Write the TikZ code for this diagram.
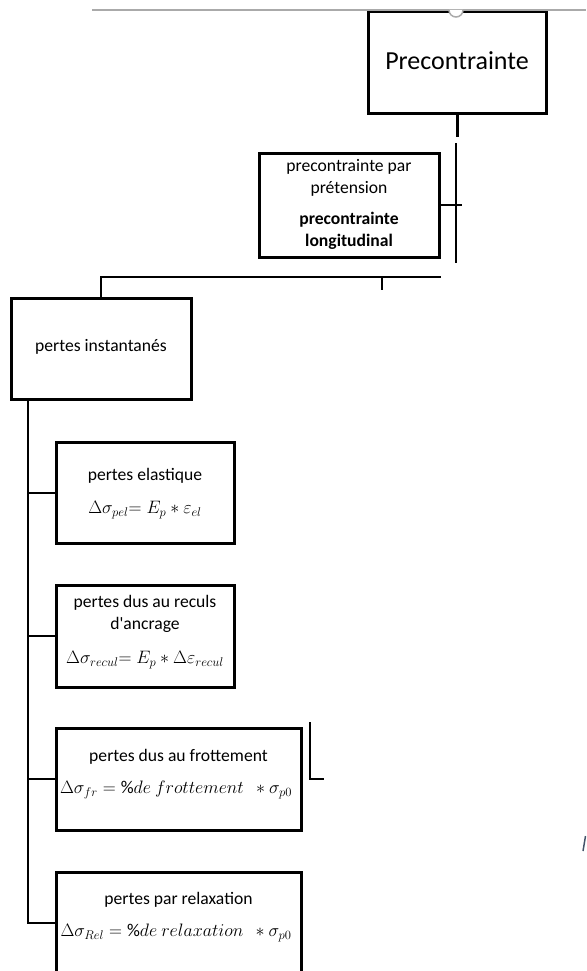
\RequirePackage{fix-cm}
\documentclass[tikz,border=0pt]{standalone}
\usepackage{fontspec}
\setmainfont{Carlito}
\definecolor{rulegray}{RGB}{170,170,170}
\definecolor{slateblue}{RGB}{68,84,106}
\begin{document}
\begin{tikzpicture}[x=1pt,y=-1pt,
  box/.style={draw=black, line width=3pt, fill=white, inner sep=0pt},
  conn/.style={draw=black, line width=2pt},
  lbl/.style={align=center, inner sep=0pt, font=\fontsize{17.6}{22}\selectfont},
  eq/.style={inner sep=0pt, font=\fontsize{18}{22}\selectfont},
  big/.style={inner sep=0pt, font=\fontsize{26}{31}\selectfont},
]
\useasboundingbox (0,0) rectangle (586,971);
\clip (0,0) rectangle (586,971);

% boxes
\node[box, minimum width=178pt, minimum height=102pt] (p1) at (457,63) {};
\node[box, minimum width=180pt, minimum height=104pt] (p2) at (349,205) {};
\node[box, minimum width=180pt, minimum height=101pt] (p3) at (101,348.5) {};
\node[box, minimum width=178pt, minimum height=101pt] (p4) at (145,492.5) {};
\node[box, minimum width=178pt, minimum height=102pt] (p5) at (145,636) {};
\node[box, minimum width=245pt, minimum height=102pt] (p6) at (178.5,779) {};
\node[box, minimum width=245pt, minimum height=102pt] (p7) at (178.5,923) {};

% top rule with its small notch
\coordinate (g1) at (92,10);
\coordinate (g2) at (586,10);
\draw[rulegray, line width=1.5pt] (g1) -- (g2);
\draw[rulegray, line width=1.5pt, fill=white] (449,10) arc[start angle=180, end angle=0, radius=7];

% labels
\node[big] (t1) at (457,61) {Precontrainte};
\node[lbl] (t2) at (349,204.5) {precontrainte par\\prétension\\[9pt]\textbf{precontrainte}\\\textbf{longitudinal}};
\node[lbl] (t3) at (101,347) {pertes instantanés};
\node[lbl] (t4) at (145,476) {pertes elastique};
\node[eq] (f4) at (145,510) {$\Delta\sigma_{pel}{=}\;E_p * \varepsilon_{el}$};
\node[lbl] (t5) at (145,614) {pertes dus au reculs\\d\textquotesingle ancrage};
\node[eq] (f5) at (145,660) {$\Delta\sigma_{recul}{=}\;E_p * \Delta\varepsilon_{recul}$};
\node[lbl] (t6) at (178.5,757) {pertes dus au frottement};
\node[eq] (f6) at (176,790) {$\Delta\sigma_{fr} = \%de\ frottement\ \ * \sigma_{p0}$};
\node[lbl] (t7) at (178.5,900) {pertes par relaxation};
\node[eq] (f7) at (176,933) {$\Delta\sigma_{Rel} = \%de\ relaxation\ \ * \sigma_{p0}$};

% connectors at the top
\draw[conn, line width=3pt] (p1.south) -- ++(0,21) coordinate (c1);
\coordinate (c2) at (456,143);
\coordinate (c3) at (456,263);
\draw[conn, line width=1.6pt] (c2) -- (c3);
\draw[conn] (p2.east) -- ++(21,0);
\coordinate (h2) at (441,277);
\draw[conn] (p3.north) -- (p3.north |- h2) -- (h2);
\coordinate (tk) at (382,277);
\draw[conn] (tk) -- ++(0,13);

% left spine and its branches
\coordinate (s0) at ([xshift=18pt]p3.south west);
\draw[conn] (s0) -- (s0 |- p7.west) -- (p7.west);
\draw[conn] (s0 |- p4.west) -- (p4.west);
\draw[conn] (s0 |- p5.west) -- (p5.west);
\draw[conn] (s0 |- p6.west) -- (p6.west);

% loose corner mark beside the friction box
\coordinate (m1) at (310,722);
\coordinate (m2) at (310,779);
\coordinate (m3) at (324,779);
\draw[conn, line width=1.8pt] (m1) -- (m2) -- (m3);

% small stroke at the right edge
\coordinate (b1) at (583,851);
\coordinate (b2) at (585.5,836);
\draw[slateblue, line width=1.5pt] (b1) -- (b2);
\end{tikzpicture}
\end{document}
